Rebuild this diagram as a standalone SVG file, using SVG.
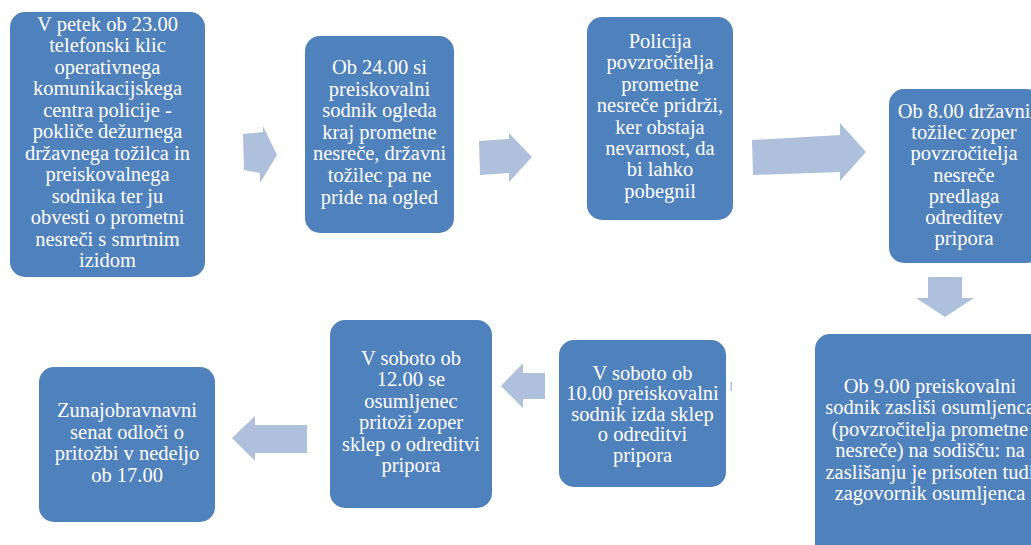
<svg xmlns="http://www.w3.org/2000/svg" width="1031" height="545" viewBox="0 0 1031 545">
<style>
.box{fill:#4F81BD;}
.arr{fill:#AFC0DC;}
text{font-family:"Liberation Serif","Times New Roman",serif;font-size:20.5px;fill:#FFFFFF;text-anchor:middle;}
</style>
<rect width="1031" height="545" fill="#FFFFFF"/>
<g id="connectors">
<polygon class="arr" points="243,134 263,132 263,126 277,155 260,183 260,173 244,170"/>
<polygon class="arr" points="479,141 509,139 509,133 532,157 509,182 509,173 480,175"/>
<polygon class="arr" points="752,140 840,135 840,123 866,152 840,181 840,172 753,175"/>
<polygon class="arr" points="928,277 962,277 962,298 974,298 945,317 916,298 928,298"/>
<polygon class="arr" points="545,373 523,373 523,363 501,386 523,408 523,399 545,399"/>
<polygon class="arr" points="307,425 255,425 255,416 232,438 255,461 255,453 307,453"/>
<rect class="arr" x="730.5" y="382" width="1.5" height="9"/>
</g>
<g id="node1">
<rect class="box" x="10" y="12" width="195" height="265" rx="15"/>
<text x="107.5" y="31">V petek ob 23.00</text>
<text x="107.5" y="52.4">telefonski klic</text>
<text x="107.5" y="73.9">operativnega</text>
<text x="107.5" y="95.3">komunikacijskega</text>
<text x="107.5" y="116.8">centra policije -</text>
<text x="107.5" y="138.2">pokliče dežurnega</text>
<text x="107.5" y="159.7">državnega tožilca in</text>
<text x="107.5" y="181.1">preiskovalnega</text>
<text x="107.5" y="202.6">sodnika ter ju</text>
<text x="107.5" y="224">obvesti o prometni</text>
<text x="107.5" y="245.5">nesreči s smrtnim</text>
<text x="107.5" y="267">izidom</text>
</g>
<g id="node2">
<rect class="box" x="305" y="36" width="149" height="197" rx="15"/>
<text x="379.5" y="74">Ob 24.00 si</text>
<text x="379.5" y="95.6">preiskovalni</text>
<text x="379.5" y="117.2">sodnik ogleda</text>
<text x="379.5" y="138.8">kraj prometne</text>
<text x="379.5" y="160.4">nesreče, državni</text>
<text x="379.5" y="182">tožilec pa ne</text>
<text x="379.5" y="203.6">pride na ogled</text>
</g>
<g id="node3">
<rect class="box" x="587" y="17" width="146" height="203" rx="15"/>
<text x="660" y="48">Policija</text>
<text x="660" y="69.4">povzročitelja</text>
<text x="660" y="90.8">prometne</text>
<text x="660" y="112.2">nesreče pridrži,</text>
<text x="660" y="133.6">ker obstaja</text>
<text x="660" y="155">nevarnost, da</text>
<text x="660" y="176.4">bi lahko</text>
<text x="660" y="197.8">pobegnil</text>
</g>
<g id="node4">
<rect class="box" x="889" y="89" width="152" height="174" rx="15"/>
<text x="964" y="118">Ob 8.00 državni</text>
<text x="964" y="139.2">tožilec zoper</text>
<text x="964" y="160.4">povzročitelja</text>
<text x="964" y="181.6">nesreče</text>
<text x="964" y="202.8">predlaga</text>
<text x="964" y="224">odreditev</text>
<text x="964" y="245.2">pripora</text>
</g>
<g id="node5">
<rect class="box" x="815" y="334" width="230" height="225" rx="15"/>
<text x="930" y="393">Ob 9.00 preiskovalni</text>
<text x="930" y="414.4">sodnik zasliši osumljenca</text>
<text x="930" y="435.8">(povzročitelja prometne</text>
<text x="930" y="457.2">nesreče) na sodišču: na</text>
<text x="930" y="478.6">zaslišanju je prisoten tudi</text>
<text x="930" y="500">zagovornik osumljenca</text>
</g>
<g id="node6">
<rect class="box" x="559" y="340" width="167" height="147" rx="15"/>
<text x="642.5" y="380">V soboto ob</text>
<text x="642.5" y="400.4">10.00 preiskovalni</text>
<text x="642.5" y="420.8">sodnik izda sklep</text>
<text x="642.5" y="441.2">o odreditvi</text>
<text x="642.5" y="461.6">pripora</text>
</g>
<g id="node7">
<rect class="box" x="330" y="320" width="162" height="188" rx="15"/>
<text x="411" y="365">V soboto ob</text>
<text x="411" y="386.4">12.00 se</text>
<text x="411" y="407.8">osumljenec</text>
<text x="411" y="429.2">pritoži zoper</text>
<text x="411" y="450.6">sklep o odreditvi</text>
<text x="411" y="472">pripora</text>
</g>
<g id="node8">
<rect class="box" x="39" y="367" width="176" height="155" rx="15"/>
<text x="127" y="417">Zunajobravnavni</text>
<text x="127" y="438.7">senat odloči o</text>
<text x="127" y="460.4">pritožbi v nedeljo</text>
<text x="127" y="482.1">ob 17.00</text>
</g>
</svg>
